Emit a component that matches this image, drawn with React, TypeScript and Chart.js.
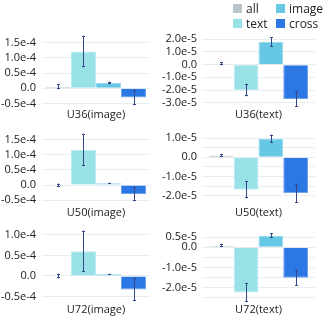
import React, { useEffect, useRef } from 'react';
import { Chart, registerables } from 'chart.js';

Chart.register(...registerables);

// ---------- data ----------
const seriesNames = ['all', 'text', 'image', 'cross'];
const seriesColors = ['#b8c6ca', '#98e1e6', '#66c8e2', '#2b77e3'];
const seriesEdgeColors = ['#cdd7da', '#b9ecef', '#94d8ea', '#6fa2ec'];

const panelTitles = ['U36(image)', 'U36(text)', 'U50(image)', 'U50(text)', 'U72(image)', 'U72(text)'];

const allValues = [5e-6, 8e-7, -1e-6, 1e-6, 0, 8e-7];
const allErrors = [8e-6, 1.4e-6, 6e-6, 6e-7, 6e-6, 7e-7];
const textValues = [1.21e-4, -2.0e-5, 1.17e-4, -1.69e-5, 6.0e-5, -2.25e-5];
const textErrors = [5.2e-5, 5e-6, 5.3e-5, 4.5e-6, 5.0e-5, 4.8e-6];
const imageValues = [1.8e-5, 1.79e-5, 6e-6, 9.7e-6, 4e-6, 5.8e-6];
const imageErrors = [4e-6, 3.8e-6, 2e-6, 2.2e-6, 1.5e-6, 1.3e-6];
const crossValues = [-3.05e-5, -2.7e-5, -2.95e-5, -1.88e-5, -3.3e-5, -1.52e-5];
const crossErrors = [2.5e-5, 6.4e-6, 2.4e-5, 5e-6, 2.8e-5, 4e-6];

const yMins = [-6.15e-5, -3.34e-5, -6.6e-5, -2.49e-5, -6.3e-5, -2.72e-5];
const yMaxs = [1.753e-4, 2.34e-5, 1.72e-4, 1.27e-5, 1.1e-4, 0.86e-5];

const tickValues = [
  [-5e-5, 0, 5e-5, 1e-4, 1.5e-4],
  [-3e-5, -2e-5, -1e-5, 0, 1e-5, 2e-5],
  [-5e-5, 0, 5e-5, 1e-4, 1.5e-4],
  [-2e-5, -1.5e-5, -1e-5, -5e-6, 0, 5e-6, 1e-5],
  [-5e-5, 0, 5e-5, 1e-4],
  [-2.5e-5, -2e-5, -1.5e-5, -1e-5, -5e-6, 0, 5e-6],
];
const tickLabels = [
  ['-0.5e-4', '0.0', '0.5e-4', '1.0e-4', '1.5e-4'],
  ['-3.0e-5', '-2.0e-5', '-1.0e-5', '0.0', '1.0e-5', '2.0e-5'],
  ['-0.5e-4', '0.0', '0.5e-4', '1.0e-4', '1.5e-4'],
  ['-2.0e-5', '', '-1.0e-5', '', '0.0', '', '1.0e-5'],
  ['-0.5e-4', '0.0', '0.5e-4', '1.0e-4'],
  ['', '-2.0e-5', '', '-1.0e-5', '', '0.0', '0.5e-5'],
];

const seriesValues = [allValues, textValues, imageValues, crossValues];
const seriesErrors = [allErrors, textErrors, imageErrors, crossErrors];

// ---------- layout ----------
const FONT = "'Open Sans', 'Noto Sans', sans-serif";
const COLS = [
  { left: 0, width: 160, axisW: 42, padRight: 10, tickPad: 6, catPct: 0.926 },
  { left: 160, width: 165, axisW: 42, padRight: 10, tickPad: 5, catPct: 0.876 },
];
const ROWS = [
  { top: 0, plotTop: 35, plotBottom: 107 },
  { top: 120, plotTop: 133, plotBottom: 205 },
  { top: 218, plotTop: 230, plotBottom: 302 },
];
const X_AXIS_H = 15;

const errorBarPlugin = {
  id: 'errorBars',
  afterDatasetsDraw(chart: any) {
    const { ctx } = chart;
    const y = chart.scales.y;
    ctx.save();
    ctx.strokeStyle = '#36468a';
    ctx.lineWidth = 1;
    chart.data.datasets.forEach((ds: any, i: number) => {
      const meta = chart.getDatasetMeta(i);
      meta.data.forEach((bar: any, j: number) => {
        const v = ds.data[j];
        const e = ds.errorBars[j];
        const x = Math.round(bar.x) + 0.5;
        const yt = y.getPixelForValue(v + e);
        const yb = y.getPixelForValue(v - e);
        ctx.beginPath();
        ctx.moveTo(x, yt);
        ctx.lineTo(x, yb);
        ctx.moveTo(x - 1.5, Math.round(yt) + 0.5);
        ctx.lineTo(x + 1.5, Math.round(yt) + 0.5);
        ctx.moveTo(x - 1.5, Math.round(yb) - 0.5);
        ctx.lineTo(x + 1.5, Math.round(yb) - 0.5);
        ctx.stroke();
      });
    });
    ctx.restore();
  },
};

function Panel({ index }: { index: number }) {
  const ref = useRef<HTMLCanvasElement>(null);
  const col = COLS[index % 2];
  const row = ROWS[Math.floor(index / 2)];
  const height = row.plotBottom - row.top + X_AXIS_H;

  useEffect(() => {
    if (!ref.current) return;
    const ticksV = tickValues[index];
    const ticksL = tickLabels[index];
    const chart = new Chart(ref.current, {
      type: 'bar',
      data: {
        labels: [panelTitles[index]],
        datasets: seriesNames.map((name, s) => ({
          label: name,
          data: [seriesValues[s][index]],
          errorBars: [seriesErrors[s][index]],
          backgroundColor: seriesColors[s],
          borderColor: seriesEdgeColors[s],
          borderWidth: 1,
          barPercentage: 1,
          categoryPercentage: col.catPct,
        })) as any,
      },
      options: {
        responsive: false,
        animation: false,
        events: [],
        layout: {
          padding: {
            left: 0,
            right: col.padRight,
            top: row.plotTop - row.top,
            bottom: X_AXIS_H - 14.2,
          },
        },
        plugins: { legend: { display: false }, tooltip: { enabled: false } },
        scales: {
          x: {
            grid: { display: false, drawTicks: false },
            border: { display: false },
            ticks: { display: false },
            title: {
              display: true,
              text: panelTitles[index],
              color: '#222',
              font: { family: FONT, size: 11 },
              padding: { top: 1, bottom: 0 },
            },
          },
          y: {
            min: yMins[index],
            max: yMaxs[index],
            bounds: 'data',
            afterBuildTicks: (scale: any) => {
              scale.ticks = ticksV.map((v) => ({ value: v }));
            },
            afterFit: (scale: any) => {
              scale.width = col.axisW;
            },
            grid: { color: '#e7eef3', lineWidth: 1, drawTicks: false },
            border: { display: false },
            ticks: {
              padding: col.tickPad,
              color: '#222',
              font: { family: FONT, size: 11 },
              autoSkip: false,
              callback: (_v: any, i: number) => ticksL[i],
            },
          },
        },
      },
      plugins: [errorBarPlugin],
    } as any);
    return () => chart.destroy();
  }, [index]);

  return (
    <canvas
      ref={ref}
      width={col.width}
      height={height}
      style={{ position: 'absolute', left: col.left, top: row.top, width: col.width, height }}
    />
  );
}

function Legend() {
  const order = [0, 2, 1, 3];
  const pos = [
    { left: 233, top: 0 },
    { left: 276, top: 0 },
    { left: 233, top: 15 },
    { left: 276, top: 15 },
  ];
  return (
    <>
      {order.map((s, k) => (
        <div
          key={seriesNames[s]}
          style={{
            position: 'absolute',
            left: pos[k].left,
            top: pos[k].top,
            height: 16,
            display: 'flex',
            alignItems: 'center',
            fontFamily: FONT,
            fontSize: 12,
            color: '#222',
            whiteSpace: 'nowrap',
          }}
        >
          <span style={{ display: 'inline-block', width: 9, height: 9, background: seriesColors[s], marginRight: 4 }} />
          <span>{seriesNames[s]}</span>
        </div>
      ))}
    </>
  );
}

export default function App() {
  return (
    <div style={{ position: 'fixed', left: 0, top: 0, width: 325, height: 323, background: '#fff', overflow: 'hidden' }}>
      {panelTitles.map((_, i) => (
        <Panel key={i} index={i} />
      ))}
      <Legend />
    </div>
  );
}
